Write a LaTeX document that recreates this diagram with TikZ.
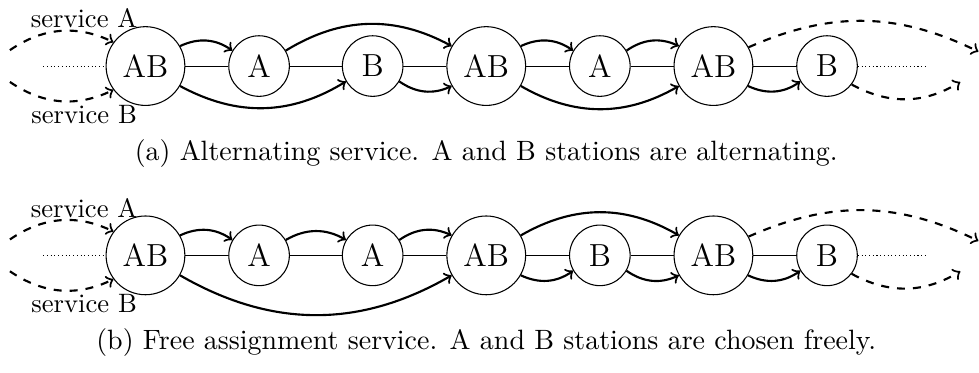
\documentclass[tikz,border=0pt]{standalone}
\usepackage{tikz}
\usetikzlibrary{positioning}

\begin{document}
\begin{tikzpicture}[
    node distance=1.5cm, on grid,
    stn/.style={draw, circle, inner sep=0pt, font=\large},
    big/.style={stn, minimum size=1.04cm},
    small/.style={stn, minimum size=0.8cm},
    hop/.style={thick, ->},
    ext/.style={thick, dashed, ->},
    subcap/.style={font=\fontsize{10.5}{13}\selectfont},
  ]
    \useasboundingbox (-1.921, 0.872) rectangle (11.007, -4.041);

    \node [big] (a1) at (0, 0) {AB};
    \node [small, right=of a1] (a2) {A};
    \node [small, right=of a2] (a3) {B};
    \node [big, right=of a3] (a4) {AB};
    \node [small, right=of a4] (a5) {A};
    \node [big, right=of a5] (a6) {AB};
    \node [small, right=of a6] (a7) {B};

    \coordinate [left=1.35cm of a1] (a0);
    \coordinate [right=1.31cm of a7] (a8);
    \coordinate [above left=0.21cm and 1.79cm of a1] (ina);
    \coordinate [below left=0.21cm and 1.79cm of a1] (inb);
    \coordinate [above right=0.19cm and 2cm of a7] (outa);
    \coordinate [below right=0.21cm and 1.76cm of a7] (outb);

    \node [above left=0.63cm and 0.81cm of a1] (sa) {service A};
    \node [below left=0.64cm and 0.81cm of a1] (sb) {service B};

    \draw [densely dotted] (a0) -- (a1);
    \draw [densely dotted] (a7) -- (a8);
    \draw (a1) -- (a2) -- (a3) -- (a4) -- (a5) -- (a6) -- (a7);

    \draw [ext] (ina) to [bend left] (a1);
    \draw [ext] (inb) to [bend right] (a1);
    \draw [ext] (a6) to [bend left=25] (outa);
    \draw [ext] (a7) to [bend right] (outb);

    \draw [hop] (a1) to [bend left] (a2);
    \draw [hop] (a1) to [bend right] (a3);
    \draw [hop] (a2) to [bend left] (a4);
    \draw [hop] (a3) to [bend right] (a4);
    \draw [hop] (a4) to [bend left] (a5);
    \draw [hop] (a4) to [bend right] (a6);
    \draw [hop] (a5) to [bend left] (a6);
    \draw [hop] (a6) to [bend right] (a7);

    \node [subcap, below=1.15cm of a4] (capa) {(a) Alternating service. A and B stations are alternating.};

    \node [big, below=2.5cm of a1] (b1) {AB};
    \node [small, right=of b1] (b2) {A};
    \node [small, right=of b2] (b3) {A};
    \node [big, right=of b3] (b4) {AB};
    \node [small, right=of b4] (b5) {B};
    \node [big, right=of b5] (b6) {AB};
    \node [small, right=of b6] (b7) {B};

    \coordinate [left=1.35cm of b1] (b0);
    \coordinate [right=1.31cm of b7] (b8);
    \coordinate [above left=0.21cm and 1.79cm of b1] (inc);
    \coordinate [below left=0.21cm and 1.79cm of b1] (ind);
    \coordinate [above right=0.19cm and 2cm of b7] (outc);
    \coordinate [below right=0.21cm and 1.76cm of b7] (outd);

    \node [above left=0.63cm and 0.81cm of b1] (sc) {service A};
    \node [below left=0.64cm and 0.81cm of b1] (sd) {service B};

    \draw [densely dotted] (b0) -- (b1);
    \draw [densely dotted] (b7) -- (b8);
    \draw (b1) -- (b2) -- (b3) -- (b4) -- (b5) -- (b6) -- (b7);

    \draw [ext] (inc) to [bend left] (b1);
    \draw [ext] (ind) to [bend right] (b1);
    \draw [ext] (b6) to [bend left=25] (outc);
    \draw [ext] (b7) to [bend right] (outd);

    \draw [hop] (b1) to [bend left] (b2);
    \draw [hop] (b1) to [bend right] (b4);
    \draw [hop] (b2) to [bend left] (b3);
    \draw [hop] (b3) to [bend left] (b4);
    \draw [hop] (b4) to [bend left] (b6);
    \draw [hop] (b4) to [bend right] (b5);
    \draw [hop] (b5) to [bend right] (b6);
    \draw [hop] (b6) to [bend right] (b7);

    \node [subcap, below=1.15cm of b4] (capb) {(b) Free assignment service. A and B stations are chosen freely.};
  \end{tikzpicture}
\end{document}
